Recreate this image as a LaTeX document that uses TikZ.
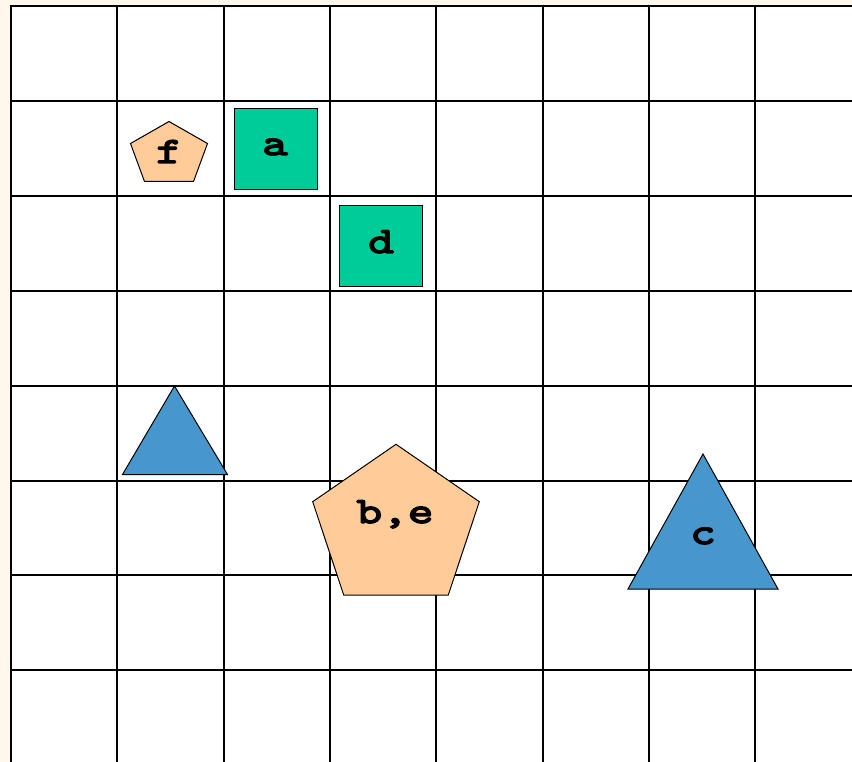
\documentclass[tikz,border=0pt]{standalone}
\usepackage{fontspec}
\newfontfamily\courfont{lmmono10-regular.otf}[FakeStretch=1.32, AutoFakeBold=4]
\definecolor{bgcream}{RGB}{254,247,236}
\definecolor{shgreen}{RGB}{0,204,153}
\definecolor{shorange}{RGB}{255,204,153}
\definecolor{shblue}{RGB}{71,151,204}
\tikzset{
  gridline/.style={line width=2pt, black},
  shapeline/.style={draw=black, line width=1pt, line join=miter},
  sqbox/.style={shapeline, fill=shgreen, minimum width=83pt, minimum height=81pt, inner sep=0pt},
  lbl/.style={font=\courfont\bfseries\fontsize{37}{37}\selectfont, inner sep=0pt, anchor=base}
}
\begin{document}
\begin{tikzpicture}[x=1pt,y=-1pt]
\fill[bgcream] (0,0) rectangle (852,762);
\useasboundingbox (0,0) rectangle (852,762);
\fill[white] (11,6) rectangle (852,762);
\foreach \i in {0,...,7} \draw[gridline] ({11+106.3*\i},6) -- ({11+106.3*\i},762);
\foreach \j in {0,...,7} \draw[gridline] (10,{6+94.9*\j}) -- (852,{6+94.9*\j});
% squares
\node[sqbox] (sqa) at (275.5,149.5) {};
\node[sqbox] (sqd) at (381,246) {};
% pentagons
\draw[shapeline, fill=shorange] (169,121.5) -- (207.5,143.5) -- (193.5,181.5) -- (144.5,181.5) -- (130.5,143.5) -- cycle;
\draw[shapeline, fill=shorange] (396,444.3) -- (479.3,501.7) -- (448.3,595) -- (343.7,595) -- (312.7,501.7) -- cycle;
% triangles
\draw[shapeline, fill=shblue] (174.5,386) -- (227.5,474.5) -- (122.5,474.5) -- cycle;
\draw[shapeline, fill=shblue] (703,454) -- (778,589) -- (628,589) -- cycle;
% labels
\node[lbl] (la) at (275,155) {a};
\node[lbl] (ld) at (381,253) {d};
\node[lbl] (lf) at (169,163) {f};
\node[lbl] (lbe) at (395,523) {b,e};
\node[lbl] (lc) at (703,544) {c};
\end{tikzpicture}
\end{document}
